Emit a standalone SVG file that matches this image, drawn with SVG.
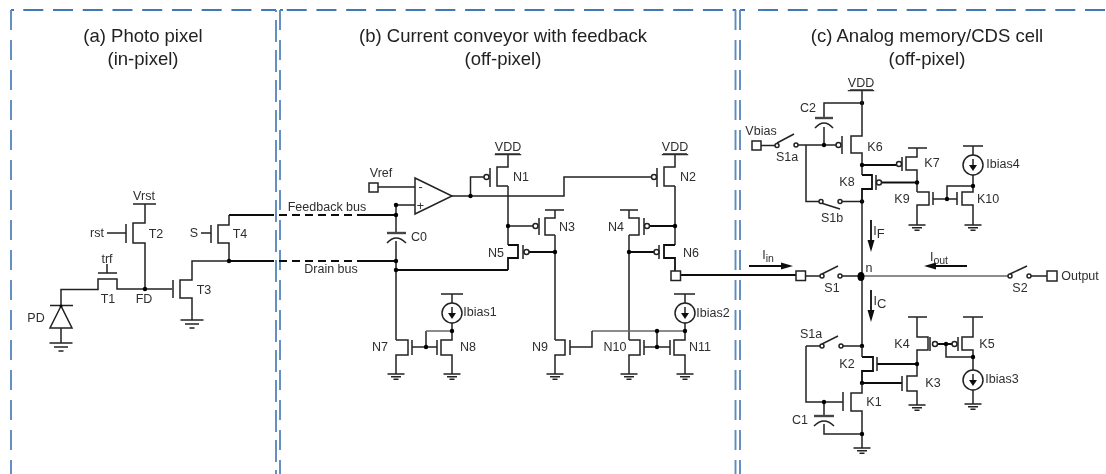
<svg xmlns="http://www.w3.org/2000/svg" width="1106" height="474" viewBox="0 0 1106 474">
<style>
text{font-family:"Liberation Sans",Arial,sans-serif;font-size:12.5px;fill:#2e2e2e;text-anchor:middle;dominant-baseline:central}
text.t{font-size:18.5px;fill:#222}
tspan.sub{font-size:10.5px}
tspan.s2{font-size:13px}
path,line,rect,circle.o{fill:none;stroke:#222;stroke-width:1.5}
.h{stroke-width:1.8;stroke:#111}
.g{stroke:#666;stroke-width:1.5}
.p{stroke-width:2.4;stroke:#444}
path.b{fill:none;stroke:#3f78b5;stroke-width:1.9;stroke-dasharray:20 9.730}
path.v{fill:none;stroke:#5c8cbf;stroke-width:1.9;stroke-dasharray:20 10}
path.v2{stroke-dasharray:22 8;stroke-dashoffset:20}
path.e{fill:none;stroke:#3f78b5;stroke-width:1.9}
.d{stroke-dasharray:8 5}
circle.n{fill:#000;stroke:none}
circle.o{fill:#fff}
path.a{fill:#111;stroke:none}
</style>
<defs>
<g id="gnd"><path d="M-8.500 0H8.500M-5 2.700H5M-2.500 5.200H2.500"/></g>
<g id="gndL"><path d="M-11.500 0H11.500M-7 4H7M-2.500 8H2.500"/></g>
<g id="src"><circle class="o" r="10" cx="0" cy="0"/><path d="M0 -6V4"/><path class="a" d="M-4 0H4L0 6Z"/></g>
<filter id="soft" filterUnits="userSpaceOnUse" x="0" y="0" width="1106" height="474"><feGaussianBlur stdDeviation="0.35"/></filter>
</defs>
<g filter="url(#soft)">
<g id="frames">
<path class="e" d="M11 10H14M280 10H283M740 10H745"/>
<path class="b" d="M23.300 10H276"/>
<path class="b" d="M286.700 10H736"/>
<path class="b" d="M758 10H1106"/>
<path class="v" d="M11 10V474"/>
<path class="v v2" d="M276 10V474"/>
<path class="v" d="M280 10V474"/>
<path class="v" d="M735.500 10V474"/>
<path class="v" d="M740 10V474"/>
</g>
<g id="connectors">
<path class="h d" d="M266 215H358M266 261H358"/>
<path d="M61 305V289.500H98V279H117V289H172"/>
<path class="h" d="M229 215H266M229 261H266M358 215H396M358 261H396M396 270H508"/>
<path d="M396 205V233M396 241V340M396 205H415M378 187H415"/>
<path d="M452 196H564V177H652M470.500 196V177H484"/>
<path d="M508 186V245M508 226H533"/>
<path class="h" d="M529 252H555M629 252H654M649 226H675"/>
<path d="M555 235V340M629 235V340M675 186V245"/>
<path class="h" d="M680 275H796"/>
<path class="g" d="M592 331H685"/>
<path d="M570 347H592V331M644 347H670M657 331V347M426 347V331"/>
<path class="g" d="M426 331H452"/>
<path d="M412 347H437"/>
<path d="M761 145.500H775M798 145H836M806 145V201.500H819M842 201.500H862M862 103H824V118M824 127V145"/>
<path class="h" d="M862 165H897M880 182.500H917"/>
<path d="M933 199H957M947 199V186H973"/>
<path d="M862 201.500V346"/>
<path class="g" d="M862 276H1008"/>
<path d="M805 276H820M842 276H862M1031 276H1047"/>
<path d="M806 346H820M842 346H862M806 346V402H843M824 402V416M824 424V434H862"/>
<path class="h" d="M877 364H917M862 383H902M932 344H953"/>
<path d="M946 344V357H973"/>
<path class="h" d="M749 266H785M932 266H967"/>
<path class="a" d="M781 262.500L793 266L781 269.500ZM936 262.500L924 266L936 269.500Z"/>
<path class="h" d="M871 220V242M871 290V312"/>
<path class="a" d="M867.500 240L871 252L874.500 240ZM867.500 310L871 322L874.500 310Z"/>
</g>
<g id="T1"><path d="M98 273H117M107 264V273"/><text x="107" y="259">trf</text><text x="108" y="299">T1</text></g>
<g id="T2"><path d="M133 204H156M145 204V223H133V243H145V289M126 224V243M107 233H126"/><text x="144" y="196">Vrst</text><text x="97" y="233">rst</text><text x="156" y="234">T2</text></g>
<g id="T3"><path d="M229 261H192V280H180V298H192V320M173 280V298"/><use href="#gndL" x="192" y="320"/><text x="204" y="290">T3</text><text x="144" y="299">FD</text><circle class="n" cx="145" cy="289" r="2.200"/></g>
<g id="T4"><path d="M229 215V225H218V243H229V261M211 225V243M201 233H211"/><text x="194" y="233">S</text><text x="240" y="234">T4</text><circle class="n" cx="229" cy="261" r="2.200"/></g>
<g id="PD"><path d="M50 305.500H73M61 306L50 328H72ZM61 328V343"/><use href="#gndL" x="61" y="343"/><text x="36" y="318">PD</text><circle class="n" cx="61" cy="306" r="1.500"/></g>
<g id="labels-bus"><text x="327" y="207">Feedback bus</text><text x="331" y="269">Drain bus</text></g>
<g id="opamp"><path d="M415 178L452 196L415 214Z"/><text x="420.500" y="187">-</text><text x="420.500" y="206">+</text><rect x="369" y="183" width="9" height="9"/><text x="381" y="173">Vref</text></g>
<g id="C0"><path class="p" d="M387 233H406"/><path d="M387 243Q396 233 406 243"/><text x="419" y="237">C0</text><circle class="n" cx="396" cy="205" r="2.200"/><circle class="n" cx="396" cy="215" r="2.200"/><circle class="n" cx="396" cy="261" r="2.200"/><circle class="n" cx="396" cy="270" r="2.200"/></g>
<g id="N1"><path d="M495 154H520M508 155V167H497V186H508M490 168V187"/><circle class="o" cx="486.500" cy="177" r="2.500"/><text x="508" y="147" text-decoration="underline">VDD</text><text x="521" y="177">N1</text><circle class="n" cx="470.500" cy="196" r="2.200"/></g>
<g id="N2"><path d="M663 154H687M675 154V167H664V186H675M657 168V187"/><circle class="o" cx="654" cy="177" r="2.500"/><text x="675" y="147" text-decoration="underline">VDD</text><text x="688" y="177">N2</text></g>
<g id="N3"><path d="M545 210H564M555 210V218H545V235H555M539 218V235"/><circle class="o" cx="535.500" cy="226" r="2.500"/><text x="567" y="227">N3</text><circle class="n" cx="555" cy="252" r="2.200"/></g>
<g id="N4"><path d="M620 210H638M629 210V218H639V235H629M644 218V235"/><circle class="o" cx="647" cy="226" r="2.500"/><text x="616" y="227">N4</text><circle class="n" cx="629" cy="252" r="2.200"/></g>
<g id="N5"><path class="h" d="M508 245H518V258H508V270"/><path d="M523 245V259"/><circle class="o" cx="526.500" cy="252" r="2.500"/><text x="496" y="253">N5</text><circle class="n" cx="508" cy="226" r="2.200"/></g>
<g id="N6"><path class="h" d="M675 245H664V258H675V271"/><path d="M659 245V259"/><circle class="o" cx="656.500" cy="252" r="2.500"/><text x="691" y="253">N6</text><circle class="n" cx="675" cy="226" r="2.200"/><rect x="671" y="271" width="9.500" height="9.500"/></g>
<g id="N7"><path d="M396 340H408V355H396V374M412 340V355"/><use href="#gnd" x="396" y="374"/><text x="380" y="347">N7</text></g>
<g id="N8"><path d="M452 322V340H441V355H452V374M437 340V355"/><use href="#gnd" x="452" y="374"/><text x="468" y="347">N8</text><circle class="n" cx="426" cy="347" r="2.200"/><circle class="n" cx="452" cy="331" r="2.200"/></g>
<g id="Ibias1"><path d="M441 294H463M452 294V303"/><use href="#src" x="452" y="313"/><text x="480" y="312">Ibias1</text></g>
<g id="N9"><path d="M555 340H565V355H555V374M570 340V355"/><use href="#gnd" x="555" y="374"/><text x="540" y="347">N9</text></g>
<g id="N10"><path d="M629 340H640V355H629V374M644 340V355"/><use href="#gnd" x="629" y="374"/><text x="615" y="347">N10</text><circle class="n" cx="657" cy="331" r="2.200"/><circle class="n" cx="657" cy="347" r="2.200"/></g>
<g id="N11"><path d="M685 322V340H674V355H685V374M670 340V355"/><use href="#gnd" x="685" y="374"/><text x="700" y="347">N11</text><circle class="n" cx="685" cy="331" r="2.200"/></g>
<g id="Ibias2"><path d="M674 294H695M685 294V303"/><use href="#src" x="685" y="313"/><text x="713" y="313">Ibias2</text></g>
<g id="C2"><path class="p" d="M815 118H833"/><path d="M815 128Q824 118 833 128"/><text x="808" y="108">C2</text><circle class="n" cx="824" cy="145" r="2.200"/><circle class="n" cx="862" cy="103" r="2.200"/></g>
<g id="Vbias"><rect x="752" y="141" width="9" height="9"/><text x="761" y="131">Vbias</text></g>
<g id="S1a-top"><path d="M777 143L794 134"/><circle class="o" cx="777" cy="145.500" r="2"/><circle class="o" cx="796" cy="145" r="2"/><text x="787" y="157">S1a</text></g>
<g id="S1b"><path d="M821 203L840 209"/><circle class="o" cx="821" cy="201.500" r="2"/><circle class="o" cx="840" cy="201.500" r="2"/><text x="832" y="218">S1b</text><circle class="n" cx="862" cy="201.500" r="2.200"/></g>
<g id="K6"><path d="M850 90H873M862 90V136H851V153H862V175M842 136V154"/><circle class="o" cx="838.500" cy="145" r="2.500"/><text x="861" y="83" text-decoration="underline">VDD</text><text x="875" y="147">K6</text><circle class="n" cx="862" cy="165" r="2.200"/></g>
<g id="K8"><path class="h" d="M862 175H872V189H862V201.500"/><path d="M876 175V190"/><circle class="o" cx="879" cy="182.500" r="2.500"/><text x="847" y="182">K8</text></g>
<g id="K7"><path d="M908 148H927M917 148V157H906V170H917V192M902 157V171"/><circle class="o" cx="899" cy="164" r="2.500"/><text x="932" y="163">K7</text><circle class="n" cx="917" cy="182.500" r="2.200"/></g>
<g id="K9"><path d="M917 192H929V205H917V225M933 192V205"/><use href="#gnd" x="917" y="225"/><text x="902" y="199">K9</text><circle class="n" cx="947" cy="199" r="2.200"/></g>
<g id="K10"><path d="M973 175V192H962V205H973V225M957 192V205"/><use href="#gnd" x="973" y="225"/><text x="988" y="199">K10</text><circle class="n" cx="973" cy="186" r="2.200"/></g>
<g id="Ibias4"><path d="M963 146H983M973 146V155"/><use href="#src" x="973" y="165"/><text x="1003" y="164">Ibias4</text></g>
<g id="In"><rect x="796" y="271" width="9.500" height="9.500"/><text x="768" y="255">I<tspan class="sub" dy="3">in</tspan></text></g>
<g id="S1"><path d="M822 274L838 266"/><circle class="o" cx="822" cy="276" r="2"/><circle class="o" cx="840" cy="276" r="2"/><text x="832" y="288">S1</text></g>
<g id="n"><ellipse cx="861" cy="276.500" rx="3.500" ry="4.500" fill="#000" stroke="none"/><text x="869" y="268">n</text></g>
<g id="S2"><path d="M1010 274L1027 266"/><circle class="o" cx="1010" cy="276" r="2"/><circle class="o" cx="1029" cy="276" r="2"/><text x="1020" y="288">S2</text></g>
<g id="Output"><rect x="1047" y="271" width="10" height="10"/><text x="1080" y="276">Output</text></g>
<g id="Iout"><text x="939" y="257">I<tspan class="sub" dy="3">out</tspan></text></g>
<g id="IF"><text x="879" y="231">I<tspan class="s2" dy="2">F</tspan></text></g>
<g id="IC"><text x="880" y="301">I<tspan class="s2" dy="2">C</tspan></text></g>
<g id="S1a-bot"><path d="M822 344L838 336"/><circle class="o" cx="822" cy="346" r="2"/><circle class="o" cx="841" cy="346" r="2"/><text x="811" y="334">S1a</text><circle class="n" cx="862" cy="346" r="2.200"/></g>
<g id="K2"><path class="h" d="M862 357H873V371H862V383"/><path d="M862 346V357"/><path d="M877 357V371"/><text x="847" y="364">K2</text><circle class="n" cx="862" cy="383" r="2.200"/></g>
<g id="K1"><path d="M862 383V393H851V411H862V448M843 392V411"/><use href="#gnd" x="862" y="448"/><text x="874" y="402">K1</text><circle class="n" cx="862" cy="434" r="2.200"/></g>
<g id="C1"><path class="p" d="M814 416H834"/><path d="M814 426Q824 416 834 426"/><text x="800" y="420">C1</text><circle class="n" cx="824" cy="402" r="2.200"/></g>
<g id="K3"><path d="M917 364V376H907V391H917V405M902 376V391"/><use href="#gnd" x="917" y="405"/><text x="933" y="383">K3</text></g>
<g id="K4"><path d="M908 317H927M917 317V337H928V350H917V364M930 337V351"/><circle class="o" cx="935" cy="344" r="2.500"/><text x="902" y="344">K4</text><circle class="n" cx="917" cy="364" r="2.200"/></g>
<g id="K5"><path d="M963 317H983M973 317V337H962V350H973V370M958 337V351"/><circle class="o" cx="954.500" cy="344" r="2.500"/><text x="987" y="344">K5</text><circle class="n" cx="946" cy="344" r="2.200"/><circle class="n" cx="973" cy="357" r="2.200"/></g>
<g id="Ibias3"><path d="M973 390V404"/><use href="#gnd" x="973" y="404"/><use href="#src" x="973" y="380"/><text x="1002" y="379">Ibias3</text></g>
<g id="titles">
<text class="t" x="143" y="35">(a) Photo pixel</text><text class="t" x="143" y="58">(in-pixel)</text>
<text class="t" x="503" y="35">(b) Current conveyor with feedback</text><text class="t" x="503" y="58">(off-pixel)</text>
<text class="t" x="927" y="35">(c) Analog memory/CDS cell</text><text class="t" x="927" y="58">(off-pixel)</text>
</g>
</g>
</svg>
